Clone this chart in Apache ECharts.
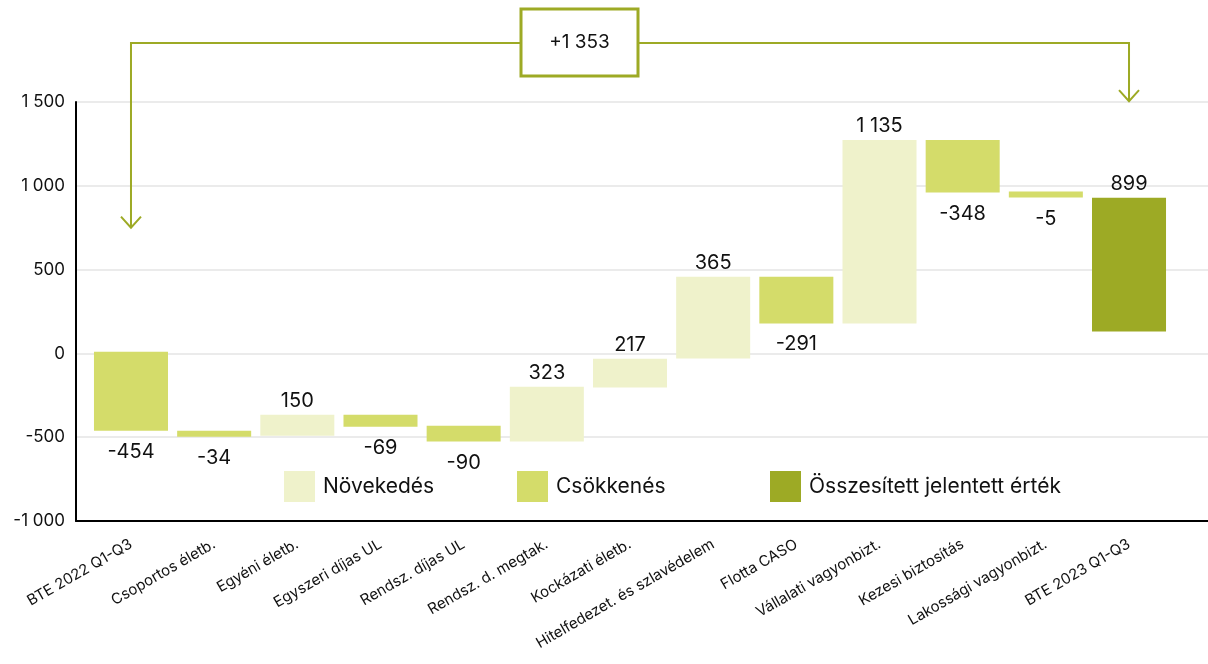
<!DOCTYPE html>
<html><head><meta charset="utf-8">
<script src="https://cdn.jsdelivr.net/npm/echarts@6/dist/echarts.min.js"></script>
<style>html,body{margin:0;padding:0;background:#fff}#c{width:1208px;height:664px}</style>
</head><body><div id="c"></div>
<script>
// ---- data ----
const categories = ['BTE 2022 Q1-Q3','Csoportos életb.','Egyéni életb.','Egyszeri díjas UL','Rendsz. díjas UL','Rendsz. d. megtak.','Kockázati életb.','Hitelfedezet. és szlavédelem','Flotta CASO','Vállalati vagyonbizt.','Kezesi biztosítás','Lakossági vagyonbizt.','BTE 2023 Q1-Q3'];
const barLow  = [-461, -497, -491, -437, -526, -526, -203, -30, 179, 179, 960, 930, 131];
const barHigh = [  10, -461, -366, -366, -431, -199,  -32, 457, 457, 1273, 1273, 966, 928];
const valueLabels = [-454, -34, 150, -69, -90, 323, 217, 365, -291, 1135, -348, -5, 899];
const barKind = ['dec','dec','inc','dec','dec','inc','inc','inc','dec','inc','dec','dec','total'];
const seriesNames = {inc:'Növekedés', dec:'Csökkenés', total:'Összesített jelentett érték'};
const yMin = -1000, yMax = 1500, yStep = 500;
const totalChange = 1353;
const arrowTipValues = [750, 1505]; // where the two arrows end (value units)

const COLORS = {inc:'#EFF2CB', dec:'#D4DC6A', total:'#9DAA25'};
const ACCENT = '#9DAA25';
const FONT = 'Inter, "Noto Sans", sans-serif';

function fmt(v){
  const s = Math.abs(v).toString().replace(/\B(?=(\d{3})+(?!\d))/g,' ');
  return (v < 0 ? '-' : '') + s;
}

function renderBar(params, api){
  const idx = api.value(0);
  const lo = api.coord([idx, api.value(1)]);
  const hi = api.coord([idx, api.value(2)]);
  const w = api.size([1,0])[0] * 0.89;
  const lab = api.value(3);
  const above = lab >= 0;
  return {type:'group', children:[
    {type:'rect', shape:{x:hi[0]-w/2, y:hi[1], width:w, height:lo[1]-hi[1]}, style:{fill:api.visual('color')}},
    {type:'text', style:{text:fmt(lab), x:hi[0], y: above ? hi[1]-14 : lo[1]+21, align:'center', verticalAlign:'middle', fill:'#111', fontSize:20, fontFamily:FONT}}
  ]};
}

function makeSeries(kind){
  const data = [];
  categories.forEach((c,i)=>{ if(barKind[i]===kind) data.push([i, barLow[i], barHigh[i], valueLabels[i]]); });
  return {type:'custom', name:seriesNames[kind], xAxisIndex:1, yAxisIndex:1, itemStyle:{color:COLORS[kind]},
    encode:{x:0, y:[1,2]}, data, renderItem:renderBar, silent:true};
}

const chart = echarts.init(document.getElementById('c'), null, {renderer:'canvas'});
const legendBase = {top:466, padding:5, itemWidth:31, itemHeight:31, icon:'rect', selectedMode:false,
  textStyle:{fontSize:21, fontFamily:FONT, color:'#111', padding:[0,0,0,3]}};
chart.setOption({
  animation:false,
  grid:[{left:76, right:0, top:102, bottom:143}, {left:89.4, right:37.4, top:102, bottom:143}],
  xAxis:[
    {gridIndex:0, type:'value', min:0, max:1, axisLine:{show:true, onZero:false, lineStyle:{color:'#000', width:2}}, axisTick:{show:false}, axisLabel:{show:false}, splitLine:{show:false}},
    {gridIndex:1, type:'category', data:categories, axisLine:{show:false}, axisTick:{show:false},
     axisLabel:{interval:0, rotate:30, margin:22, fontSize:15, fontFamily:FONT, color:'#111'}}
  ],
  yAxis:[
    {gridIndex:0, type:'value', min:yMin, max:yMax, interval:yStep,
     axisLine:{show:true, onZero:false, lineStyle:{color:'#000', width:2}}, axisTick:{show:false},
     axisLabel:{fontSize:17, fontFamily:FONT, color:'#111', margin:11, formatter:v=>fmt(v)},
     splitLine:{show:true, lineStyle:{color:'#EBEBEB', width:2}}},
    {gridIndex:1, type:'value', min:yMin, max:yMax, interval:yStep, show:false, splitLine:{show:false}}
  ],
  legend:[
    Object.assign({left:279, data:[seriesNames.inc]}, legendBase),
    Object.assign({left:512, data:[seriesNames.dec]}, legendBase),
    Object.assign({left:765, data:[seriesNames.total]}, legendBase)
  ],
  series:[makeSeries('inc'), makeSeries('dec'), makeSeries('total')]
});

// annotation: total change bracket with arrows
const pL = chart.convertToPixel({xAxisIndex:1, yAxisIndex:1}, [0, arrowTipValues[0]]);
const pR = chart.convertToPixel({xAxisIndex:1, yAxisIndex:1}, [categories.length-1, arrowTipValues[1]]);
const lineY = 43, boxL = 521, boxR = 638, boxT = 9, boxB = 76;
const ls = {stroke:ACCENT, lineWidth:2, fill:null};
chart.setOption({graphic:[
  {type:'polyline', shape:{points:[[boxL,lineY],[pL[0],lineY],[pL[0],pL[1]]]}, style:ls},
  {type:'polyline', shape:{points:[[pL[0]-10,pL[1]-11],[pL[0],pL[1]],[pL[0]+10,pL[1]-11]]}, style:ls},
  {type:'polyline', shape:{points:[[boxR,lineY],[pR[0],lineY],[pR[0],pR[1]]]}, style:ls},
  {type:'polyline', shape:{points:[[pR[0]-10,pR[1]-11],[pR[0],pR[1]],[pR[0]+10,pR[1]-11]]}, style:ls},
  {type:'rect', shape:{x:boxL, y:boxT, width:boxR-boxL, height:boxB-boxT}, style:{stroke:ACCENT, lineWidth:3, fill:'#fff'}},
  {type:'text', style:{text:'+' + fmt(totalChange), x:(boxL+boxR)/2, y:(boxT+boxB)/2, align:'center', verticalAlign:'middle', fontSize:19, fontFamily:FONT, fill:'#111'}}
]});
</script>
</body></html>
